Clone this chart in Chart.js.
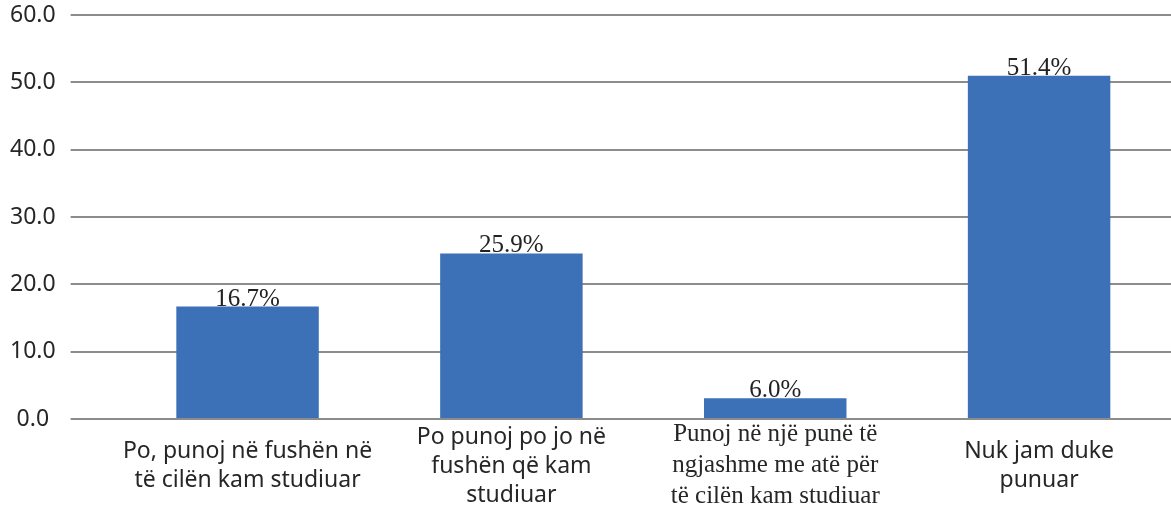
<!DOCTYPE html>
<html lang="sq">
<head>
    <meta charset="UTF-8">
    <title>Punësimi</title>
    <script src="https://cdn.jsdelivr.net/npm/chart.js"></script>
    <style>
        html, body {
            margin: 0;
            padding: 0;
            background: #fff;
            overflow: hidden;
        }
        #wrap {
            width: 1171px;
            height: 521px;
            position: relative;
        }
    </style>
</head>
<body>
<div id="wrap">
    <canvas id="chart"></canvas>
</div>
<script>
    // categories (already broken into lines as in the picture)
    const categories = [
        ['Po, punoj në fushën në', 'të cilën kam studiuar'],
        ['Po punoj po jo në', 'fushën që kam', 'studiuar'],
        ['Punoj në një punë të', 'ngjashme me atë për', 'të cilën kam studiuar'],
        ['Nuk jam duke', 'punuar']
    ];
    // bar heights as drawn in the picture
    const barHeights = [16.7, 24.6, 3.1, 51.0];
    // value labels printed above the bars
    const valueLabels = ['16.7%', '25.9%', '6.0%', '51.4%'];
    const yTicks = [0, 10, 20, 30, 40, 50, 60];

    const sansFont = { family: '"Noto Sans", sans-serif', size: 23, lineHeight: 1.26 };
    const serifFont = { family: '"Liberation Serif", "DejaVu Serif", serif', size: 25, lineHeight: 1.24 };

    // draws the % labels on top of each bar
    const valueLabelPlugin = {
        id: 'valueLabels',
        afterDatasetsDraw(chart) {
            const c = chart.ctx;
            const meta = chart.getDatasetMeta(0);
            c.save();
            c.font = '25px "Liberation Serif", serif';
            c.fillStyle = '#222';
            c.textAlign = 'center';
            c.textBaseline = 'alphabetic';
            meta.data.forEach((bar, i) => {
                c.fillText(valueLabels[i], bar.x, bar.y - 1);
            });
            c.restore();
        }
    };

    new Chart(document.getElementById('chart'), {
        type: 'bar',
        data: {
            labels: categories,
            datasets: [{
                data: barHeights,
                backgroundColor: '#3c71b8',
                borderWidth: 0,
                barPercentage: 0.54,
                categoryPercentage: 1
            }]
        },
        options: {
            responsive: true,
            maintainAspectRatio: false,
            animation: false,
            layout: {
                padding: { top: 15, left: -5, right: 0, bottom: -13 }
            },
            plugins: {
                legend: { display: false },
                tooltip: { enabled: false }
            },
            scales: {
                x: {
                    grid: { display: false },
                    border: { display: false },
                    ticks: {
                        color: '#262626',
                        padding: 7,
                        maxRotation: 0,
                        autoSkip: false,
                        crossAlign: 'center',
                        font: (ctx) => ctx.index === 2 ? serifFont : sansFont
                    }
                },
                y: {
                    min: 0,
                    max: 60,
                    afterBuildTicks(axis) {
                        axis.ticks = yTicks.map(v => ({ value: v }));
                    },
                    grid: {
                        color: '#8c8c8c',
                        lineWidth: 2,
                        drawTicks: true,
                        tickLength: 45
                    },
                    border: { display: false },
                    ticks: {
                        color: '#262626',
                        padding: 15,
                        crossAlign: 'center',
                        font: { family: '"Noto Sans", sans-serif', size: 23, lineHeight: 0.01 },
                        callback: (v) => Number(v).toFixed(1)
                    }
                }
            }
        },
        plugins: [valueLabelPlugin]
    });
</script>
</body>
</html>
